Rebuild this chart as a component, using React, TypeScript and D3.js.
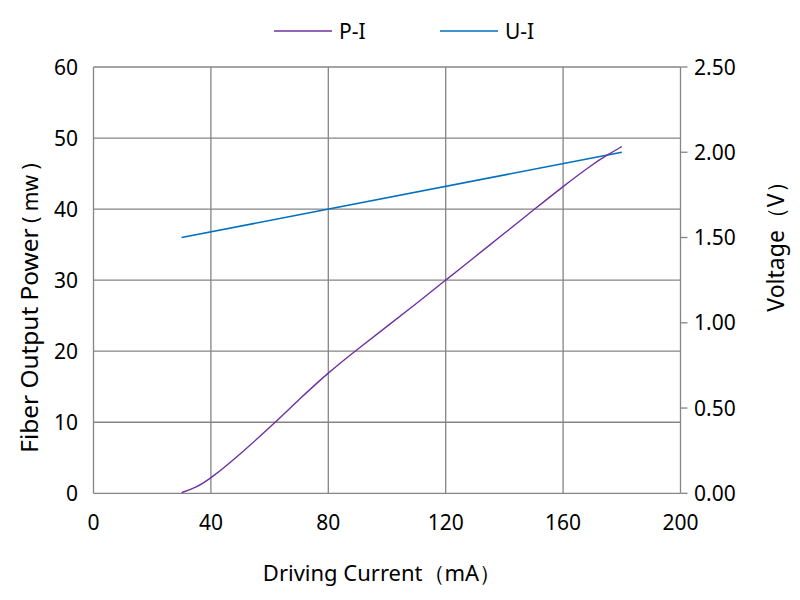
import React from "react";
import * as d3 from "d3";

const currentPI = [30, 35, 40, 50, 62, 70, 80, 90, 100, 110, 120, 130, 140, 150, 160, 170, 175, 180];
const powerPI = [0.1, 0.8, 2.1, 5.5, 10, 13.2, 17.0, 20.3, 23.5, 26.7, 30, 33.3, 36.6, 39.9, 43.2, 46.3, 47.6, 48.8];
const currentUI = [30, 180];
const voltageUI = [1.5, 2.0];

const xTicks = [0, 40, 80, 120, 160, 200];
const yLeftTicks = [0, 10, 20, 30, 40, 50, 60];
const yRightTicks = [0, 0.5, 1.0, 1.5, 2.0, 2.5];

const W = 800;
const H = 600;
const M = { left: 93.5, right: 680.5, top: 67, bottom: 493.3 };
const FONT = "'Noto Sans', sans-serif";

export default function App() {
  const x = d3.scaleLinear().domain([0, 200]).range([M.left, M.right]);
  const yL = d3.scaleLinear().domain([0, 60]).range([M.bottom, M.top]);
  const yR = d3.scaleLinear().domain([0, 2.5]).range([M.bottom, M.top]);

  const piLine = d3
    .line<number>()
    .x((_, i) => x(currentPI[i]))
    .y((d) => yL(d))
    .curve(d3.curveBasis)(powerPI) as string;
  const uiLine = d3
    .line<number>()
    .x((_, i) => x(currentUI[i]))
    .y((d) => yR(d))(voltageUI) as string;

  const grid = "#858585";

  return (
    <svg
      width={W}
      height={H}
      style={{ position: "absolute", left: 0, top: 0, background: "#fff" }}
      fontFamily={FONT}
    >
      <rect x={0} y={0} width={W} height={H} fill="#fff" />
      {yLeftTicks.map((t) => (
        <line key={"h" + t} x1={M.left} x2={M.right} y1={yL(t)} y2={yL(t)} stroke={grid} strokeWidth={1.3} />
      ))}
      {xTicks.map((t) => (
        <line key={"v" + t} x1={x(t)} x2={x(t)} y1={M.top} y2={M.bottom} stroke={grid} strokeWidth={1.3} />
      ))}
      {yRightTicks.map((t) => (
        <line key={"rt" + t} x1={M.right} x2={M.right + 7} y1={yR(t)} y2={yR(t)} stroke={grid} strokeWidth={1.3} />
      ))}
      {yLeftTicks.map((t) => (
        <text key={"lt" + t} x={78} y={yL(t)} dy="0.36em" textAnchor="end" fontSize={21} fill="#000">
          {t}
        </text>
      ))}
      {yRightTicks.map((t) => (
        <text key={"rl" + t} x={694} y={yR(t)} dy="0.36em" textAnchor="start" fontSize={21} fill="#000">
          {t.toFixed(2)}
        </text>
      ))}
      {xTicks.map((t) => (
        <text key={"bt" + t} x={x(t)} y={522} dy="0.36em" textAnchor="middle" fontSize={21} fill="#000">
          {t}
        </text>
      ))}
      <path d={uiLine} fill="none" stroke="#0070C0" strokeWidth={1.6} />
      <path d={piLine} fill="none" stroke="#7030A0" strokeWidth={1.4} />
      <text x={382} y={573} dy="0.36em" textAnchor="middle" fontSize={22} fill="#000">
        Driving Current（mA）
      </text>
      <text
        transform={`translate(29,308) rotate(-90)`}
        dy="0.36em"
        textAnchor="middle"
        fontSize={24.4}
        fill="#000"
      >
        Fiber Output Power
        <tspan fontSize={21}> ( mw )</tspan>
      </text>
      <text
        transform={`translate(776,241) rotate(-90)`}
        dy="0.36em"
        textAnchor="middle"
        fontSize={23}
        fill="#000"
      >
        Voltage（V）
      </text>
      <line x1={274} x2={332} y1={31} y2={31} stroke="#7030A0" strokeWidth={1.4} />
      <text x={339} y={31} dy="0.36em" fontSize={21} fill="#000">
        P-I
      </text>
      <line x1={440} x2={498} y1={31} y2={31} stroke="#0070C0" strokeWidth={1.6} />
      <text x={505} y={31} dy="0.36em" fontSize={21} fill="#000">
        U-I
      </text>
    </svg>
  );
}
